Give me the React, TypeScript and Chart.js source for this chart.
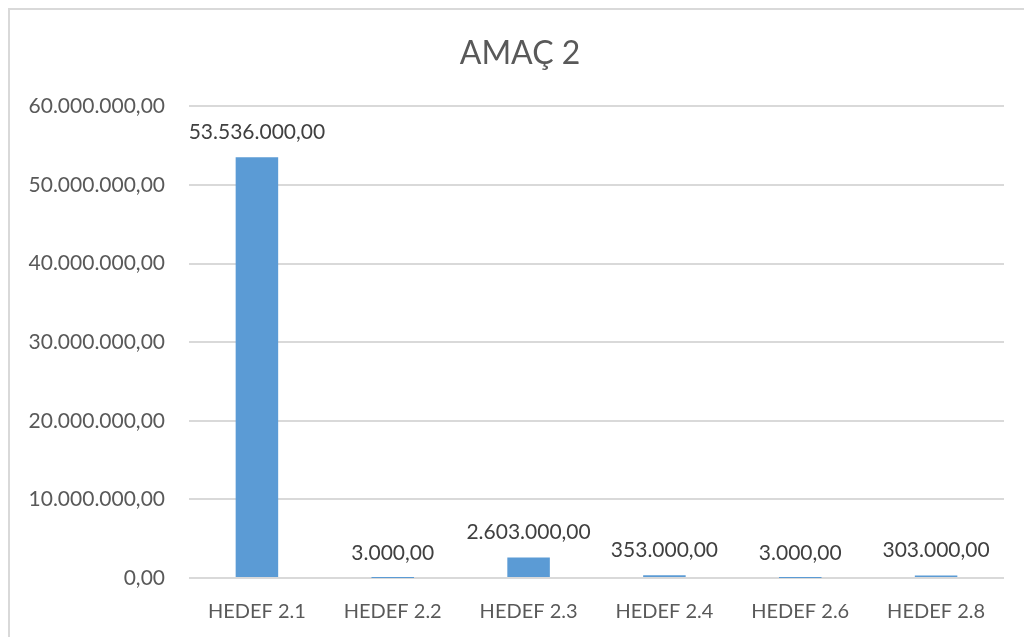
import React, { useEffect, useRef } from "react";
import { Chart, registerables } from "chart.js";

Chart.register(...registerables);

const chartTitle = "AMAÇ 2";
const categories = ["HEDEF 2.1", "HEDEF 2.2", "HEDEF 2.3", "HEDEF 2.4", "HEDEF 2.6", "HEDEF 2.8"];
const values = [53536000, 3000, 2603000, 353000, 3000, 303000];
const yMin = 0;
const yMax = 60000000;
const yStep = 10000000;

const FONT = "Lato, 'Open Sans', 'Liberation Sans', sans-serif";
const TEXT = "#595959";

function formatTR(v: number): string {
  const neg = v < 0;
  const abs = Math.abs(v);
  const intPart = Math.floor(abs);
  const dec = Math.round((abs - intPart) * 100);
  const s = String(intPart).replace(/\B(?=(\d{3})+(?!\d))/g, ".");
  return (neg ? "-" : "") + s + "," + String(dec).padStart(2, "0");
}

const frame = {
  id: "frame",
  afterLayout(chart: any) {
    const tb = chart.titleBlock;
    if (tb) {
      tb.left += 26;
    }
  },
  beforeDraw(chart: any) {
    const ctx = chart.ctx;
    ctx.save();
    ctx.fillStyle = "#ffffff";
    ctx.fillRect(0, 0, chart.width, chart.height);
    ctx.strokeStyle = "#d9d9d9";
    ctx.lineWidth = 2;
    ctx.beginPath();
    ctx.moveTo(9, chart.height);
    ctx.lineTo(9, 9);
    ctx.lineTo(chart.width, 9);
    ctx.stroke();
    ctx.restore();
  },
};

const dataLabels = {
  id: "dataLabels",
  afterDatasetsDraw(chart: any) {
    const ctx = chart.ctx;
    const meta = chart.getDatasetMeta(0);
    const data = chart.data.datasets[0].data;
    ctx.save();
    ctx.font = `21px ${FONT}`;
    ctx.fillStyle = "#404040";
    ctx.textAlign = "center";
    ctx.textBaseline = "middle";
    meta.data.forEach((bar: any, i: number) => {
      ctx.fillText(formatTR(data[i]), bar.x, bar.y - 25);
    });
    ctx.restore();
  },
};

export default function App() {
  const ref = useRef<HTMLCanvasElement>(null);
  useEffect(() => {
    if (!ref.current) return;
    const chart = new Chart(ref.current, {
      type: "bar",
      data: {
        labels: categories,
        datasets: [
          {
            data: values,
            backgroundColor: "#5b9bd5",
            borderWidth: 0,
            barPercentage: 0.313,
            categoryPercentage: 1,
          },
        ],
      },
      plugins: [frame, dataLabels],
      options: {
        responsive: false,
        animation: false,
        layout: { padding: { left: 10, right: 20, top: 10, bottom: 0 } },
        plugins: {
          legend: { display: false },
          tooltip: { enabled: false },
          title: {
            display: true,
            text: chartTitle,
            color: TEXT,
            font: { family: FONT, size: 32, weight: "normal" },
            padding: { top: 24, bottom: 34 },
          },
        },
        scales: {
          x: {
            afterFit(scale: any) {
              scale.height = 59;
            },
            grid: { display: false, drawTicks: false },
            border: { display: false },
            ticks: {
              color: TEXT,
              font: { family: FONT, size: 20 },
              padding: 22,
              maxRotation: 0,
              autoSkip: false,
            },
          },
          y: {
            min: yMin,
            max: yMax,
            afterFit(scale: any) {
              scale.width = 179;
            },
            grid: { color: "#d9d9d9", lineWidth: 2, drawTicks: false },
            border: { display: false },
            ticks: {
              stepSize: yStep,
              color: TEXT,
              font: { family: FONT, size: 21 },
              padding: 24,
              callback: (v: any) => formatTR(Number(v)),
            },
          },
        },
      },
    });
    return () => chart.destroy();
  }, []);
  return (
    <div style={{ position: "absolute", left: 0, top: 0, width: 1024, height: 637 }}>
      <canvas ref={ref} width={1024} height={637} style={{ display: "block" }} />
    </div>
  );
}
